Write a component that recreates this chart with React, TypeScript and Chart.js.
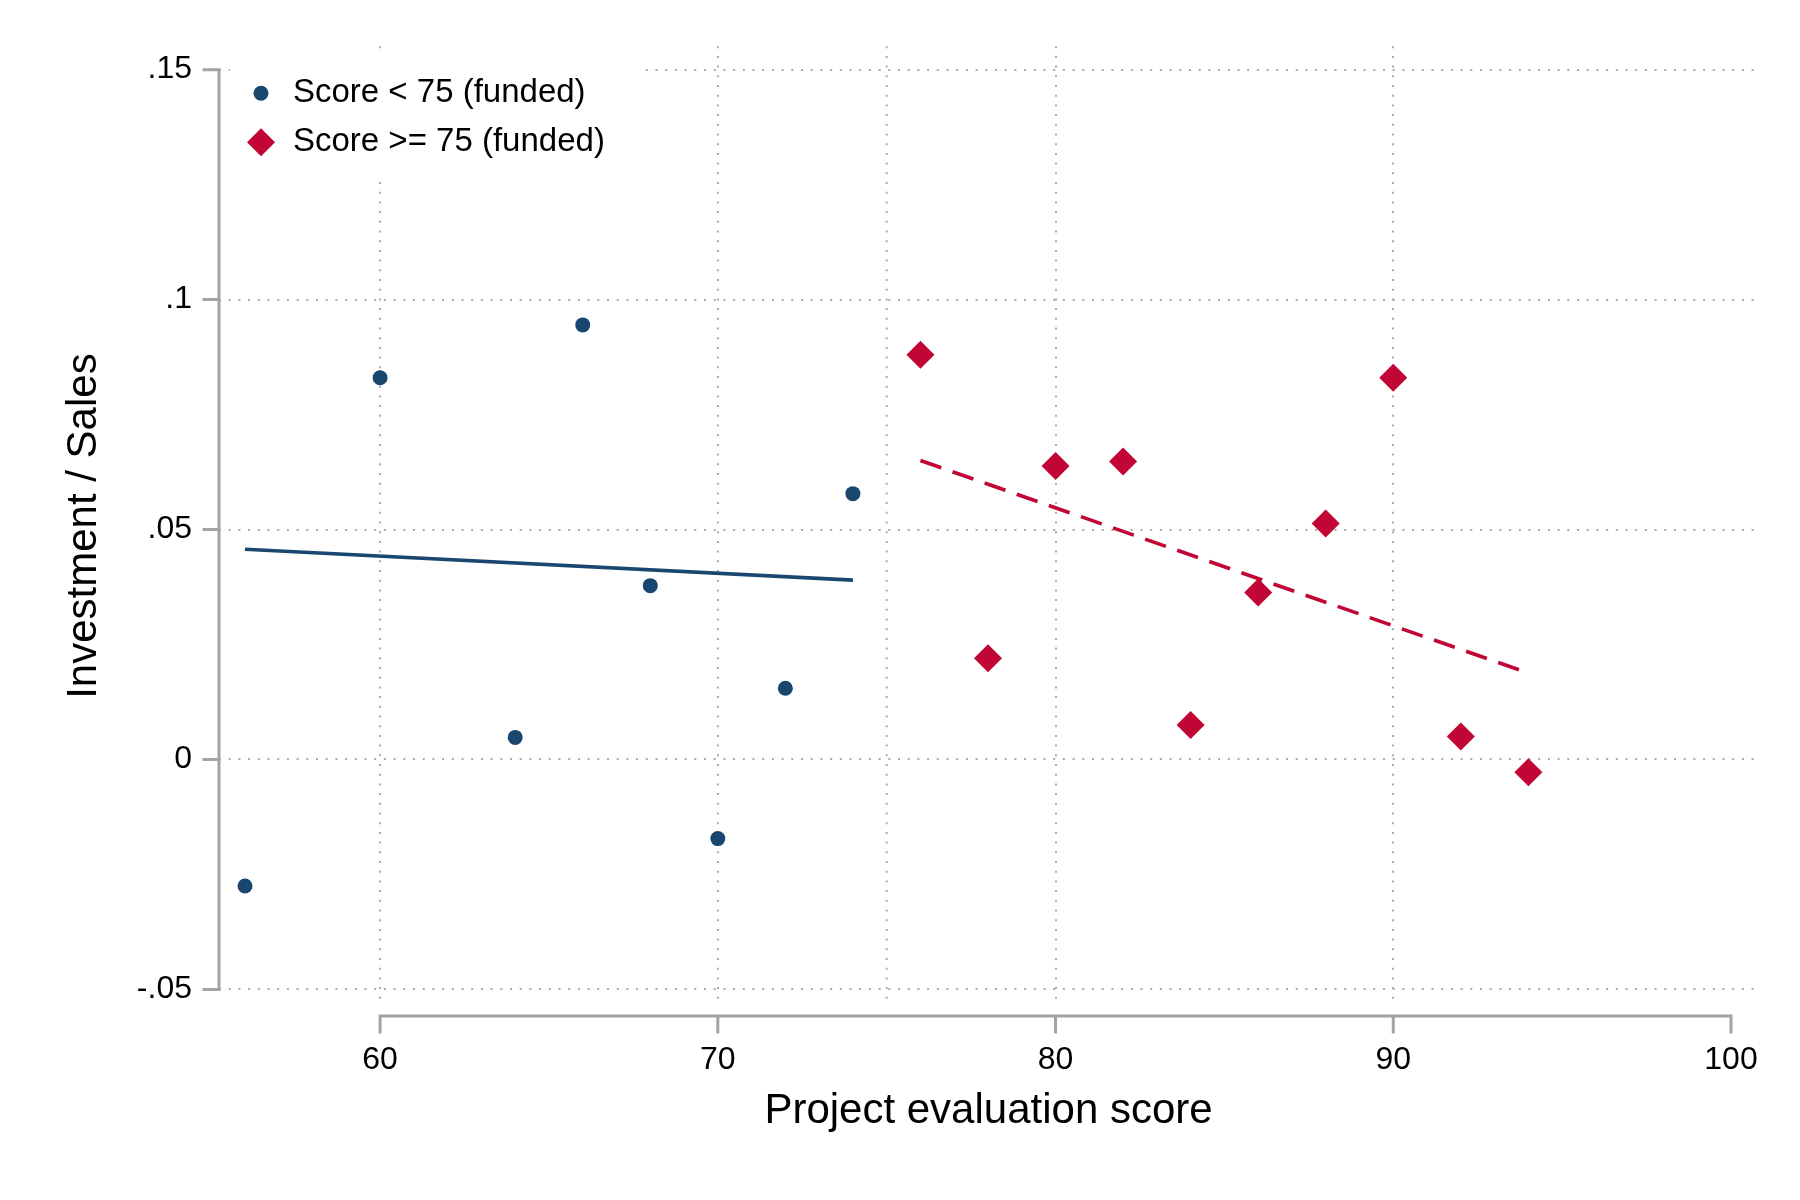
import { useEffect, useRef } from "react"
import { Chart, registerables } from "chart.js"

Chart.register(...registerables)

// scores and investment/sales ratios
const lowScore = [56, 60, 64, 66, 68, 70, 72, 74]
const lowRatio = [-0.0275, 0.083, 0.0048, 0.0945, 0.0378, -0.0172, 0.0155, 0.0578]
const highScore = [76, 78, 80, 82, 84, 86, 88, 90, 92, 94]
const highRatio = [0.088, 0.022, 0.0638, 0.0648, 0.0075, 0.0363, 0.0513, 0.083, 0.005, -0.0028]

// fitted lines (end points)
const lowFitScore = [56, 74]
const lowFitRatio = [0.0457, 0.039]
const highFitScore = [76, 94]
const highFitRatio = [0.065, 0.0188]

const xTicks = [60, 70, 80, 90, 100]
const yTicks = [-0.05, 0, 0.05, 0.1, 0.15]
const yTickLabels = ["-.05", "0", ".05", ".1", ".15"]
const xRange = [55.23, 100.8]
const yRange = [-0.0536, 0.1551]
const cutoff = 75
const legendLabels = ["Score < 75 (funded)", "Score >= 75 (funded)"]

const BLUE = "#1a476f"
const RED = "#c10534"
const GRID = "#ababab"
const AXIS = "#a3a3a3"
const FONT = '"Liberation Sans", Arial, sans-serif'
const DOTS = [2, 7.7]

const toPoints = (xs: number[], ys: number[]) => xs.map((x, i) => ({ x, y: ys[i] }))

const framePlugin = {
  id: "frame",
  beforeDatasetsDraw(chart: any) {
    const { ctx, chartArea, scales } = chart
    const x = scales.x
    const y = scales.y
    ctx.save()
    // cutoff line at 75
    ctx.strokeStyle = GRID
    ctx.lineWidth = 2
    ctx.setLineDash(DOTS)
    const cx = x.getPixelForValue(cutoff)
    ctx.beginPath()
    ctx.moveTo(cx, chartArea.top)
    ctx.lineTo(cx, chartArea.bottom)
    ctx.stroke()

    // axis lines + tick marks
    ctx.setLineDash([])
    ctx.strokeStyle = AXIS
    ctx.lineWidth = 3
    ctx.lineCap = "square"
    const left = chartArea.left
    ctx.beginPath()
    ctx.moveTo(left, y.getPixelForValue(yTicks[yTicks.length - 1]))
    ctx.lineTo(left, y.getPixelForValue(yTicks[0]))
    yTicks.forEach((v) => {
      const py = y.getPixelForValue(v)
      ctx.moveTo(left - 15, py)
      ctx.lineTo(left, py)
    })
    const base = chartArea.bottom + 10
    ctx.moveTo(x.getPixelForValue(xTicks[0]), base)
    ctx.lineTo(x.getPixelForValue(xTicks[xTicks.length - 1]), base)
    xTicks.forEach((v) => {
      const px = x.getPixelForValue(v)
      ctx.moveTo(px, base)
      ctx.lineTo(px, base + 16)
    })
    ctx.stroke()
    ctx.restore()
  },
  afterDraw(chart: any) {
    const { ctx, chartArea } = chart
    ctx.save()
    ctx.fillStyle = "#ffffff"
    ctx.fillRect(chartArea.left + 11, chartArea.top + 9, 411, 125)
    const rows = [chartArea.top + 47, chartArea.top + 96]
    const mx = chartArea.left + 42
    // circle
    ctx.fillStyle = BLUE
    ctx.beginPath()
    ctx.arc(mx, rows[0], 7.5, 0, Math.PI * 2)
    ctx.fill()
    // diamond
    ctx.fillStyle = RED
    ctx.beginPath()
    ctx.moveTo(mx - 14, rows[1])
    ctx.lineTo(mx, rows[1] - 14)
    ctx.lineTo(mx + 14, rows[1])
    ctx.lineTo(mx, rows[1] + 14)
    ctx.closePath()
    ctx.fill()
    ctx.fillStyle = "#000"
    ctx.font = `33px ${FONT}`
    ctx.textBaseline = "middle"
    ctx.textAlign = "left"
    legendLabels.forEach((t, i) => ctx.fillText(t, chartArea.left + 74, rows[i]))
    ctx.restore()
  },
}

const App = () => {
  const chartRef = useRef<HTMLCanvasElement>(null)
  const chartInstance = useRef<Chart | null>(null)

  useEffect(() => {
    document.body.style.margin = "0"
    if (!chartRef.current) return
    if (chartInstance.current) chartInstance.current.destroy()
    const ctx = chartRef.current.getContext("2d")
    if (!ctx) return

    chartInstance.current = new Chart(ctx, {
      type: "scatter",
      data: {
        datasets: [
          {
            label: legendLabels[0],
            data: toPoints(lowScore, lowRatio),
            backgroundColor: BLUE,
            borderColor: BLUE,
            pointStyle: "circle",
            pointRadius: 7.5,
            pointBorderWidth: 0,
          },
          {
            label: legendLabels[1],
            data: toPoints(highScore, highRatio),
            backgroundColor: RED,
            borderColor: RED,
            pointStyle: "rectRot",
            pointRadius: 14,
            pointBorderWidth: 0,
          },
          {
            label: "fit low",
            data: toPoints(lowFitScore, lowFitRatio),
            showLine: true,
            borderColor: BLUE,
            borderWidth: 3.6,
            pointRadius: 0,
          },
          {
            label: "fit high",
            data: toPoints(highFitScore, highFitRatio),
            showLine: true,
            borderColor: RED,
            borderWidth: 3.6,
            borderDash: [22, 12],
            pointRadius: 0,
          },
        ],
      },
      options: {
        responsive: false,
        animation: false,
        devicePixelRatio: 1,
        layout: { padding: { top: 46, right: 42, left: 0, bottom: 0 } },
        plugins: { legend: { display: false }, tooltip: { enabled: false } },
        scales: {
          x: {
            type: "linear",
            min: xRange[0],
            max: xRange[1],
            afterBuildTicks: (s: any) => {
              s.ticks = xTicks.map((value) => ({ value }))
            },
            afterFit: (s: any) => {
              s.height = 194
            },
            grid: {
              drawTicks: false,
              lineWidth: 2,
              color: (c: any) => (c.tick && c.tick.value === xTicks[xTicks.length - 1] ? "rgba(0,0,0,0)" : GRID),
            },
            border: { display: false, dash: DOTS },
            ticks: {
              padding: 35,
              color: "#000",
              font: { family: FONT, size: 32 },
              callback: (v: any) => String(v),
            },
            title: {
              display: true,
              text: "Project evaluation score",
              color: "#000",
              font: { family: FONT, size: 42 },
              padding: { top: 0, bottom: 63 },
            },
          },
          y: {
            type: "linear",
            min: yRange[0],
            max: yRange[1],
            afterBuildTicks: (s: any) => {
              s.ticks = yTicks.map((value) => ({ value }))
            },
            afterFit: (s: any) => {
              s.width = 219
            },
            grid: { drawTicks: false, lineWidth: 2, color: GRID },
            border: { display: false, dash: DOTS },
            ticks: {
              padding: 27,
              color: "#000",
              font: { family: FONT, size: 32 },
              callback: (v: any) => {
                const i = yTicks.findIndex((t) => Math.abs(t - v) < 1e-9)
                return i >= 0 ? yTickLabels[i] : ""
              },
            },
            title: {
              display: true,
              text: "Investment / Sales",
              color: "#000",
              font: { family: FONT, size: 42 },
              padding: { top: 59, bottom: 0 },
            },
          },
        },
      },
      plugins: [framePlugin],
    })

    return () => {
      if (chartInstance.current) {
        chartInstance.current.destroy()
        chartInstance.current = null
      }
    }
  }, [])

  return (
    <div style={{ width: 1800, height: 1200, background: "#fff" }}>
      <canvas ref={chartRef} width={1800} height={1200} />
    </div>
  )
}

export default App
